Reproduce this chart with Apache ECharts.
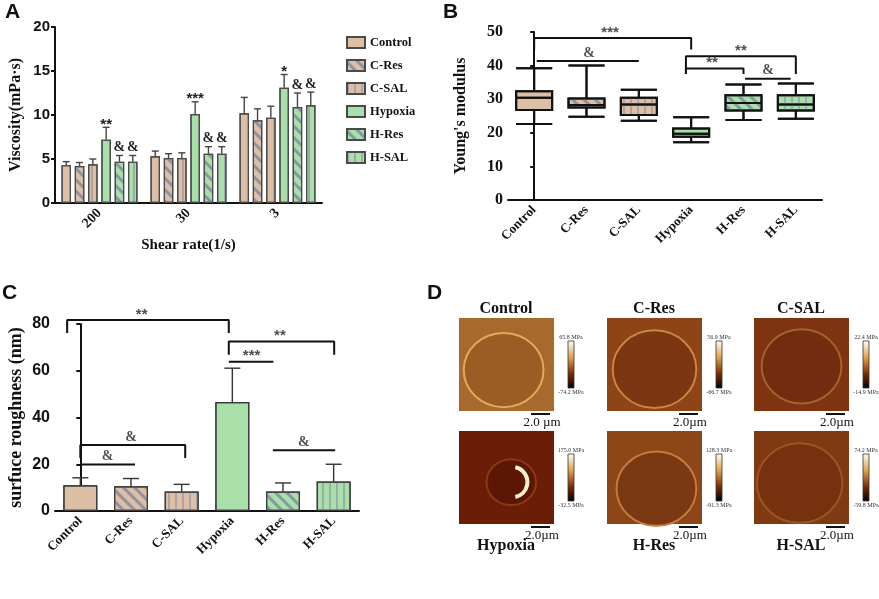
<!DOCTYPE html>
<html>
<head>
<meta charset="utf-8">
<script src="https://cdn.jsdelivr.net/npm/echarts@6/dist/echarts.min.js"></script>
<style>html,body{margin:0;padding:0;background:#fff}#chart{width:879px;height:599px}</style>
</head>
<body>
<div id="chart"></div>
<script>
const groups = ['Control', 'C-Res', 'C-SAL', 'Hypoxia', 'H-Res', 'H-SAL'];
const shearRates = ['200', '30', '3'];

// A: viscosity, rows = groups, columns = shear rates
const viscMean = [
  [4.3, 5.3, 10.2],
  [4.2, 5.1, 9.4],
  [4.4, 5.1, 9.7],
  [7.2, 10.1, 13.1],
  [4.7, 5.6, 10.9],
  [4.7, 5.6, 11.1]
];
const viscErr = [
  [4.7, 5.9, 12.0],
  [4.6, 5.6, 10.7],
  [5.0, 5.7, 11.0],
  [8.6, 11.5, 14.6],
  [5.4, 6.4, 12.5],
  [5.4, 6.4, 12.6]
];
const viscSig = [
  ['', '', ''],
  ['', '', ''],
  ['', '', ''],
  ['**', '***', '*'],
  ['&', '&', '&'],
  ['&', '&', '&']
];

// B: Young's modulus box plot [min, Q1, median, Q3, max]
const youngBox = [
  [22.6, 26.8, 30.4, 32.4, 39.2],
  [24.8, 27.5, 28.3, 30.2, 40.0],
  [23.6, 25.3, 28.4, 30.4, 32.8],
  [17.2, 18.8, 19.7, 21.3, 24.6],
  [23.8, 26.6, 28.9, 31.2, 34.4],
  [24.2, 26.6, 28.4, 31.2, 34.7]
];
// brackets: [x from, x to, top, left leg end, right leg end, text, text x]
const bracketsB = [
  [0, 3, 48.2, 44.8, 44.8, '***', 1.45],
  [0.05, 2.0, 41.4, 41.4, 41.4, '&', 1.05],
  [2.9, 5.0, 42.8, 37.5, 37.5, '**', 3.95],
  [2.9, 4.0, 39.1, 37.5, 37.5, '**', 3.4],
  [4.03, 4.9, 36.1, 36.1, 36.1, '&', 4.47]
];

// C: surface roughness
const roughMean = [11.0, 10.6, 8.3, 46.6, 8.3, 12.6];
const roughErr = [14.2, 13.9, 11.4, 61.1, 12.0, 20.0];
const bracketsC = [
  [-0.26, 2.93, 81.7, 76.1, 76.1, '**', 1.21],
  [2.93, 5.01, 72.5, 66.8, 66.8, '**', 3.94],
  [2.93, 3.81, 63.9, 63.9, 63.9, '***', 3.38],
  [0.0, 2.07, 28.2, 22.7, 22.7, '&', 1.0],
  [0.0, 1.08, 19.9, 19.9, 19.9, '&', 0.54],
  [3.8, 5.03, 26.0, 26.0, 26.0, '&', 4.41]
];

// D: AFM image captions
const afmScaleMax = ['65.8 MPa', '56.9 MPa', '22.4 MPa', '175.0 MPa', '128.3 MPa', '74.2 MPa'];
const afmScaleMin = ['-74.2 MPa', '-66.7 MPa', '-14.9 MPa', '-32.5 MPa', '-91.3 MPa', '-59.8 MPa'];
const afmScaleBar = ['2.0 µm', '2.0µm', '2.0µm', '2.0µm', '2.0µm', '2.0µm'];

const SERIF = '"Liberation Serif", "DejaVu Serif", serif';
const SANS = '"Liberation Sans", Arial, sans-serif';
const tan = '#DDBFA6';
const green = '#A9E0A9';
const fills = [tan, tan, tan, green, green, green];
const hatch = ['none', 'diag', 'vert', 'none', 'diag', 'vert'];

function decalFor(kind) {
  if (kind === 'diag') {
    return { symbol: 'rect', symbolSize: 1, color: 'rgba(125,135,158,0.8)',
      dashArrayX: [1, 0], dashArrayY: [3, 5], rotation: Math.PI / 4 };
  }
  if (kind === 'vert') {
    return { symbol: 'rect', symbolSize: 1, color: 'rgba(140,145,165,0.6)',
      dashArrayX: [1.5, 4.5], dashArrayY: [1, 0] };
  }
  return { symbol: 'none' };
}

const chart = echarts.init(document.getElementById('chart'));

const stepA = 13.3;
const series = [];

// A bars
groups.forEach((g, i) => {
  series.push({
    name: g, type: 'bar', xAxisIndex: 0, yAxisIndex: 0,
    data: viscMean[i], barWidth: 9.5, barGap: '40%',
    itemStyle: { color: fills[i], borderColor: '#4a4a4a', borderWidth: 1.2, decal: decalFor(hatch[i]) },
    animation: false
  });
});

// A error bars and marks
const errDataA = [];
groups.forEach((g, i) => {
  shearRates.forEach((s, c) => errDataA.push([c, viscMean[i][c], viscErr[i][c], i]));
});
series.push({
  type: 'custom', xAxisIndex: 0, yAxisIndex: 0, z: 5, animation: false, silent: true,
  data: errDataA,
  renderItem(params, api) {
    const c = api.value(0), g = api.value(3);
    const base = api.coord([c, api.value(1)]);
    const top = api.coord([c, api.value(2)]);
    const x = base[0] + (g - 2.5) * stepA;
    const st = { stroke: '#444', lineWidth: 1.4 };
    const children = [
      { type: 'line', shape: { x1: x, y1: base[1], x2: x, y2: top[1] }, style: st },
      { type: 'line', shape: { x1: x - 3.5, y1: top[1], x2: x + 3.5, y2: top[1] }, style: st }
    ];
    const sig = viscSig[g][c];
    if (sig) {
      const isAmp = sig === '&';
      children.push({ type: 'text', style: {
        text: sig, x: x, y: top[1] + (isAmp ? -1 : 5), align: 'center', verticalAlign: 'bottom',
        fill: '#222', font: isAmp ? 'bold 14px ' + SERIF : 'bold 15px ' + SANS } });
    }
    return { type: 'group', children };
  }
});

// B box plot
series.push({
  type: 'boxplot', xAxisIndex: 1, yAxisIndex: 1, animation: false,
  boxWidth: [36, 36],
  itemStyle: { borderColor: '#111', borderWidth: 2 },
  data: youngBox.map((d, i) => ({ value: d, itemStyle: { color: fills[i], decal: decalFor(hatch[i]) } }))
});

// C bars
series.push({
  name: 'roughness', type: 'bar', xAxisIndex: 2, yAxisIndex: 2, barWidth: 34, animation: false,
  data: roughMean.map((v, i) => ({ value: v, itemStyle: { color: fills[i], decal: decalFor(hatch[i]) } })),
  itemStyle: { borderColor: '#3a3a3a', borderWidth: 1.2 }
});
series.push({
  type: 'custom', xAxisIndex: 2, yAxisIndex: 2, z: 5, animation: false, silent: true,
  data: roughMean.map((v, i) => [i, v, roughErr[i]]),
  renderItem(params, api) {
    const base = api.coord([api.value(0), api.value(1)]);
    const top = api.coord([api.value(0), api.value(2)]);
    const st = { stroke: '#333', lineWidth: 1.4 };
    return { type: 'group', children: [
      { type: 'line', shape: { x1: base[0], y1: base[1], x2: base[0], y2: top[1] }, style: st },
      { type: 'line', shape: { x1: base[0] - 8, y1: top[1], x2: base[0] + 8, y2: top[1] }, style: st }
    ] };
  }
});

function addBrackets(list, xIdx, yIdx) {
  list.forEach(b => {
    series.push({
      type: 'line', xAxisIndex: xIdx, yAxisIndex: yIdx, symbol: 'none', clip: false,
      silent: true, animation: false, z: 6,
      lineStyle: { color: '#111', width: 2 },
      data: [[b[0], b[3]], [b[0], b[2]], [b[1], b[2]], [b[1], b[4]]]
    });
  });
  series.push({
    type: 'scatter', xAxisIndex: xIdx, yAxisIndex: yIdx, symbolSize: 0, clip: false,
    silent: true, animation: false, z: 6,
    data: list.map(b => ({
      value: [b[6], b[2]],
      label: { show: true, position: 'top', distance: b[5] === '&' ? 1 : -2, formatter: b[5],
        color: '#222', fontWeight: 'bold',
        fontFamily: b[5] === '&' ? SERIF : SANS, fontSize: b[5] === '&' ? 14 : 15 }
    }))
  });
}
addBrackets(bracketsB, 3, 1);
addBrackets(bracketsC, 4, 2);

function catAxis(gridIndex, data, fontSize) {
  return {
    type: 'category', gridIndex, data,
    axisLine: { lineStyle: { color: '#111', width: 2 } },
    axisTick: { alignWithLabel: true, length: 5, lineStyle: { color: '#111', width: 2 } },
    axisLabel: { rotate: 45, margin: 8, color: '#111', fontWeight: 'bold', fontFamily: SERIF, fontSize }
  };
}
function valAxis(gridIndex, max, interval, name, nameGap, labelFont, labelSize, nameSize) {
  return {
    type: 'value', gridIndex, min: 0, max, interval,
    name, nameLocation: 'middle', nameGap,
    nameTextStyle: { color: '#111', fontWeight: 'bold', fontFamily: SERIF, fontSize: nameSize },
    axisLine: { show: true, lineStyle: { color: '#111', width: 2 } },
    axisTick: { show: true, length: 4, lineStyle: { color: '#111', width: 2 } },
    axisLabel: { margin: 5, color: '#111', fontWeight: 'bold', fontFamily: labelFont, fontSize: labelSize },
    splitLine: { show: false }
  };
}

// D: AFM panels drawn as plain graphics
const afmX = [459, 607, 754];
const afmY = [318, 431];
const afmLook = [
  { base: '#A7692C', inner: '#9C5D24', ring: '#E0AA5C', cx: 0.47, cy: 0.56, r: 0.42 },
  { base: '#8E4416', inner: '#7C3611', ring: '#C98744', cx: 0.5, cy: 0.55, r: 0.44 },
  { base: '#7E3411', inner: '#722C0E', ring: '#A6612C', cx: 0.5, cy: 0.52, r: 0.42 },
  { base: '#6B1D08', inner: '#5C1605', ring: '#8A3A12', cx: 0.55, cy: 0.55, r: 0.26 },
  { base: '#8C4618', inner: '#7A3813', ring: '#C27C3C', cx: 0.52, cy: 0.62, r: 0.42 },
  { base: '#7F3913', inner: '#76310F', ring: '#9C5424', cx: 0.48, cy: 0.56, r: 0.45 }
];
const graphic = [];
const letter = (t, x, y) => ({ type: 'text', left: x, top: y,
  style: { text: t, font: 'bold 21px ' + SANS, fill: '#111' } });
graphic.push(letter('A', 5, 2), letter('B', 443, 2), letter('C', 2, 283), letter('D', 427, 283));

groups.forEach((g, i) => {
  const row = Math.floor(i / 3), col = i % 3;
  const x = afmX[col], y = afmY[row], w = 95, h = 93;
  const lk = afmLook[i];
  graphic.push({ type: 'rect', shape: { x, y, width: w, height: h }, style: { fill: lk.base } });
  graphic.push({ type: 'ellipse', shape: { cx: x + lk.cx * w, cy: y + lk.cy * h, rx: lk.r * w, ry: lk.r * h * 0.95 },
    style: { fill: lk.inner, stroke: lk.ring, lineWidth: 2 } });
  if (i === 3) {
    graphic.push({ type: 'arc', shape: { cx: x + 0.56 * w, cy: y + 0.55 * h, r: 0.16 * w,
      startAngle: -Math.PI / 2.3, endAngle: Math.PI / 2.3 },
      style: { stroke: '#FFF2C8', lineWidth: 4, fill: null } });
  }
  const cbx = x + 109, cby = y + 23, cbh = 47;
  graphic.push({ type: 'rect', shape: { x: cbx, y: cby, width: 6, height: cbh },
    style: { stroke: '#333', lineWidth: 0.8, fill: new echarts.graphic.LinearGradient(0, 0, 0, 1, [
      { offset: 0, color: '#FFFFFF' }, { offset: 0.35, color: '#E2A24A' },
      { offset: 0.7, color: '#7A2A05' }, { offset: 1, color: '#000000' }]) } });
  const tiny = '6px ' + SERIF;
  graphic.push({ type: 'text', style: { text: afmScaleMax[i], x: cbx + 3, y: cby - 1, align: 'center', verticalAlign: 'bottom', font: tiny, fill: '#333' } });
  graphic.push({ type: 'text', style: { text: afmScaleMin[i], x: cbx + 3, y: cby + cbh + 1, align: 'center', verticalAlign: 'top', font: tiny, fill: '#333' } });
  const sy = y + h + 3;
  graphic.push({ type: 'line', shape: { x1: x + 72, y1: sy, x2: x + 91, y2: sy }, style: { stroke: '#111', lineWidth: 2 } });
  graphic.push({ type: 'text', style: { text: afmScaleBar[i], x: x + 83, y: sy + 2, align: 'center', verticalAlign: 'top', font: '13px ' + SERIF, fill: '#111' } });
  graphic.push({ type: 'text', style: { text: g, x: x + 47, y: row === 0 ? y - 9 : y + h + 22,
    align: 'center', verticalAlign: 'middle', font: 'bold 16px ' + SERIF, fill: '#111' } });
});

chart.setOption({
  backgroundColor: '#fff',
  animation: false,
  grid: [
    { left: 55, top: 27, width: 267, height: 176 },
    { left: 508, top: 32, width: 314, height: 168 },
    { left: 55, top: 324, width: 304, height: 187 }
  ],
  legend: {
    data: groups, orient: 'vertical', left: 341, top: 31,
    itemWidth: 18, itemHeight: 11, itemGap: 10, icon: 'rect',
    textStyle: { color: '#111', fontWeight: 'bold', fontFamily: SERIF, fontSize: 12.5 }
  },
  xAxis: [
    Object.assign(catAxis(0, shearRates, 14), { name: 'Shear rate(1/s)', nameLocation: 'middle', nameGap: 35,
      nameTextStyle: { color: '#111', fontWeight: 'bold', fontFamily: SERIF, fontSize: 15 } }),
    catAxis(1, groups, 13),
    catAxis(2, groups, 13),
    { type: 'value', gridIndex: 1, min: -0.5, max: 5.5, show: false },
    { type: 'value', gridIndex: 2, min: -0.5, max: 5.5, show: false }
  ],
  yAxis: [
    valAxis(0, 20, 5, 'Viscosity(mPa·s)', 31, SANS, 15, 16),
    valAxis(1, 50, 10, "Young's modulus", 39, SERIF, 16, 16),
    valAxis(2, 80, 20, 'surfuce roughness (nm)', 30, SANS, 16, 18)
  ],
  series,
  graphic
});
</script>
</body>
</html>
